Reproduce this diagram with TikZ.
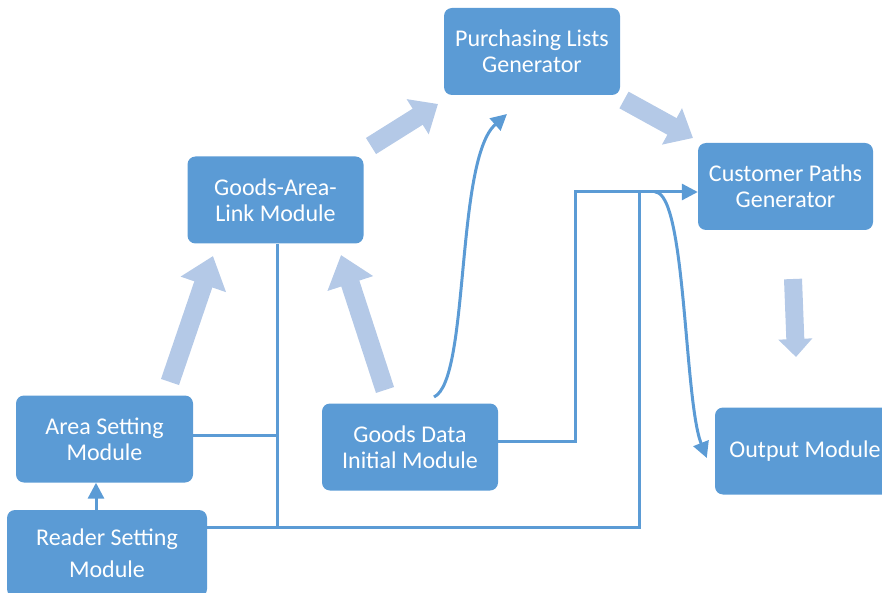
\documentclass[tikz,border=0pt]{standalone}
\usepackage{fontspec}
\setmainfont{Carlito}
\usetikzlibrary{arrows.meta}
\definecolor{boxblue}{HTML}{5B9BD5}
\definecolor{lightblue}{HTML}{B4C9E7}
\begin{document}
\begin{tikzpicture}[x=1pt,y=-1pt,
  modbox/.style={fill=boxblue, rounded corners=8pt, text=white, align=center,
    font=\fontsize{24pt}{26pt}\selectfont, minimum width=176pt, minimum height=87pt, inner sep=0pt},
  conn/.style={draw=boxblue, line width=3pt},
  connarrow/.style={conn, -{Triangle[length=16pt,width=16pt]}},
  bigarrow/.style={draw=lightblue, line width=19pt, -{Triangle[length=30pt,width=46pt]}},
  midarrow/.style={draw=lightblue, line width=19pt, -{Triangle[length=24pt,width=40pt]}},
  smallarrow/.style={draw=lightblue, line width=18pt, -{Triangle[length=18pt,width=33pt]}}]
\useasboundingbox (0,0) rectangle (882,593);

\node[modbox] (pur) at (532,51.5) {Purchasing Lists\\Generator};
\node[modbox] (gal) at (275.5,200) {Goods-Area-\\Link Module};
\node[modbox, minimum width=175pt] (cpg) at (785.5,186.5) {Customer Paths\\Generator};
\node[modbox, minimum width=177pt] (area) at (104.5,439) {Area Setting\\Module};
\node[modbox, minimum width=200pt] (reader) at (107,553.5) {Reader Setting\\[6pt]Module};
\node[modbox] (gdi) at (410,447) {Goods Data\\Initial Module};
\node[modbox, minimum width=180pt] (out) at (805,451) {Output Module};

% big light arrows
\draw[bigarrow] (170,382) -- (213,256);
\draw[bigarrow] (385,390) -- (341,255);
\draw[midarrow] (371,146) -- (438,104);
\draw[midarrow] (624,100) -- (693,138);
\draw[smallarrow] (793,279) -- (796,357);

% coordinates
\coordinate (j1) at (277,435);
\coordinate (j2) at (277,527);
\coordinate (j3) at (639,527);
\coordinate (j4) at (639,192);
\coordinate (j5) at (575,441);
\coordinate (j6) at (575,192);
\coordinate (j7) at (655,192);
\coordinate (outin) at ([xshift=-8pt]out.west |- 0,458);

% connectors
\draw[conn] (gal.south -| j1) -- (j2);
\draw[conn] (area.east |- j1) -- (j1);
\draw[conn] (reader.east |- j2) -- (j2) -- (j3) -- (j4);
\draw[connarrow] (gdi.east |- j5) -- (j5) -- (j6) -- (cpg.west |- j6);
\draw[connarrow] (j7) .. controls (686,192) and (684,400) .. (outin);
\draw[connarrow] (434,397) .. controls (470,380) and (455,160) .. (507,114);
\draw[connarrow] (reader.north -| 96,0) -- (area.south -| 96,0);
\end{tikzpicture}
\end{document}
